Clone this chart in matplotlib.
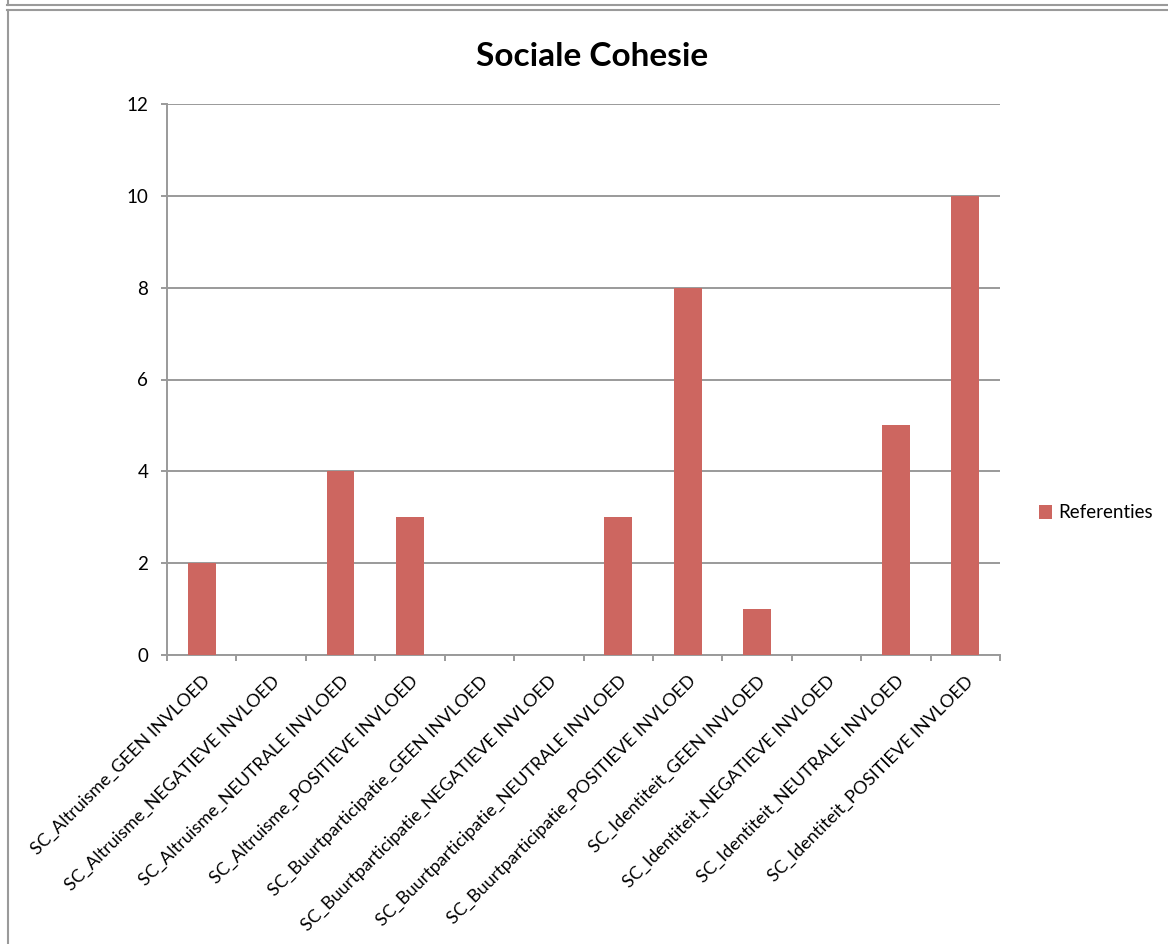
import matplotlib
matplotlib.use("Agg")
import matplotlib.pyplot as plt
from matplotlib.lines import Line2D

categories = [
    "SC_Altruisme_GEEN INVLOED",
    "SC_Altruisme_NEGATIEVE INVLOED",
    "SC_Altruisme_NEUTRALE INVLOED",
    "SC_Altruisme_POSITIEVE INVLOED",
    "SC_Buurtparticipatie_GEEN INVLOED",
    "SC_Buurtparticipatie_NEGATIEVE INVLOED",
    "SC_Buurtparticipatie_NEUTRALE INVLOED",
    "SC_Buurtparticipatie_POSITIEVE INVLOED",
    "SC_Identiteit_GEEN INVLOED",
    "SC_Identiteit_NEGATIEVE INVLOED",
    "SC_Identiteit_NEUTRALE INVLOED",
    "SC_Identiteit_POSITIEVE INVLOED",
]
referenties = [2, 0, 4, 3, 0, 0, 3, 8, 1, 0, 5, 10]
yticks = [0, 2, 4, 6, 8, 10, 12]

title = "Sociale Cohesie"
series_name = "Referenties"

plt.rcParams["font.family"] = ["Lato", "DejaVu Sans"]

W, H = 1168, 944
fig = plt.figure(figsize=(W / 100, H / 100), dpi=100)

grey = "#9a9a9a"
bar_color = "#CD6660"

ax = fig.add_axes([167 / W, 1 - 655 / H, (1000 - 167) / W, (655 - 104) / H])
x = list(range(len(categories)))
ax.bar(x, referenties, width=0.4, color=bar_color, label=series_name, zorder=3)
ax.set_xlim(-0.5, len(categories) - 0.5)
ax.set_ylim(0, 12)
ax.set_yticks(yticks)
ax.set_yticklabels([str(v) for v in yticks], fontsize=13.5)
ax.yaxis.grid(True, color=grey, linewidth=1.4, zorder=0)
ax.tick_params(axis="y", length=4.5, width=1.4, color=grey, pad=9)

# category boundary ticks
ax.set_xticks([i - 0.5 for i in range(len(categories) + 1)])
ax.set_xticklabels([])
ax.tick_params(axis="x", length=4.5, width=1.4, color=grey)
ax.set_xticks(x, minor=True)
ax.set_xticklabels(categories, minor=True, rotation=45, ha="right", va="top",
                   rotation_mode="anchor", fontsize=13)
ax.tick_params(axis="x", which="minor", length=0, pad=13)

for side in ["top", "right"]:
    ax.spines[side].set_visible(False)
for side in ["left", "bottom"]:
    ax.spines[side].set_color(grey)
    ax.spines[side].set_linewidth(1.4)

fig.text(592 / W, 1 - 57 / H, title, ha="center", va="center",
         fontsize=24, fontweight="bold")

fig.legend(loc="center left", bbox_to_anchor=(1039 / W, 1 - 513 / H),
           frameon=False, fontsize=13.5, handlelength=0.7, handleheight=0.7,
           handletextpad=0.3, borderpad=0, borderaxespad=0)

# chart frame lines
fig.add_artist(Line2D([7 / W, 1], [1 - 4.5 / H, 1 - 4.5 / H], color=grey, lw=1.5,
                      transform=fig.transFigure))
fig.add_artist(Line2D([7.5 / W, 7.5 / W], [1, 1 - 4.5 / H], color=grey, lw=1.5,
                      transform=fig.transFigure))
fig.add_artist(Line2D([7 / W, 1], [1 - 10 / H, 1 - 10 / H], color=grey, lw=1.5,
                      transform=fig.transFigure))
fig.add_artist(Line2D([7.5 / W, 7.5 / W], [1 - 10 / H, 0], color=grey, lw=1.5,
                      transform=fig.transFigure))

fig.savefig("out.png", dpi=100, facecolor="white")
